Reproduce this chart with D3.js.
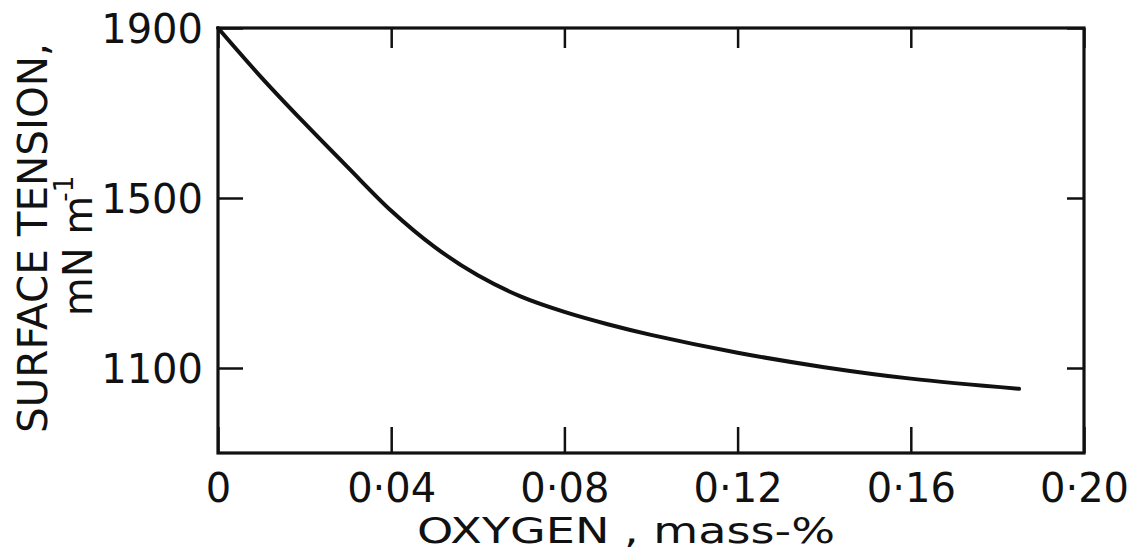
<!DOCTYPE html>
<html>
<head>
<meta charset="utf-8">
<script src="https://cdn.jsdelivr.net/npm/d3@7"></script>
<style>
  html, body { margin: 0; padding: 0; background: #fff; }
  svg { display: block; }
  text { font-family: "DejaVu Sans", sans-serif; fill: #111; }
</style>
</head>
<body>
<svg id="chart" width="1130" height="555"></svg>
<script>
// Data
const oxygen = [0, 0.01, 0.02, 0.03, 0.04, 0.05, 0.06, 0.07, 0.08, 0.09, 0.10, 0.12, 0.14, 0.16, 0.185];
const tension = [1900, 1784, 1676, 1572, 1470, 1385, 1318, 1268, 1232, 1203, 1178, 1136, 1102, 1075, 1051];
const xTicks = [0, 0.04, 0.08, 0.12, 0.16, 0.20];
const xTickLabels = ["0", "0·04", "0·08", "0·12", "0·16", "0·20"];
const yTicks = [1100, 1500, 1900];
const yTickLabels = ["1100", "1500", "1900"];
const xTitle = "OXYGEN , mass-%";
const yTitle1 = "SURFACE TENSION,";
const yTitle2 = "mN m";
const yTitle2Sup = "-1";

const svg = d3.select("#chart");
const L = 218, R = 1084, T = 28, B = 453;
const x = d3.scaleLinear().domain([0, 0.20]).range([L, R]);
const y = d3.scaleLinear().domain([900, 1900]).range([B, T]);

const ink = "#111";

// Bottom axis: inward ticks, labels below
const gx = svg.append("g").attr("transform", `translate(0,${B})`)
  .call(d3.axisBottom(x).tickValues(xTicks).tickSize(-26).tickSizeOuter(0)
    .tickFormat((d, i) => xTickLabels[i]).tickPadding(0));
gx.select(".domain").remove();
gx.selectAll(".tick line").attr("stroke", ink).attr("stroke-width", 2.5);
gx.selectAll(".tick text").attr("y", 49).attr("dy", 0).style("font-size", "40px");

// Top axis: inward ticks, no labels
const gxt = svg.append("g").attr("transform", `translate(0,${T})`)
  .call(d3.axisTop(x).tickValues(xTicks).tickSize(-20).tickSizeOuter(0).tickFormat(""));
gxt.select(".domain").remove();
gxt.selectAll(".tick line").attr("stroke", ink).attr("stroke-width", 2.5);

// Left axis
const gy = svg.append("g").attr("transform", `translate(${L},0)`)
  .call(d3.axisLeft(y).tickValues(yTicks).tickSize(-25).tickSizeOuter(0)
    .tickFormat((d, i) => yTickLabels[i]).tickPadding(0));
gy.select(".domain").remove();
gy.selectAll(".tick line").attr("stroke", ink).attr("stroke-width", 2.5);
gy.selectAll(".tick text").attr("x", -15).attr("dy", "0.36em").style("font-size", "40px");

// Right axis
const gyr = svg.append("g").attr("transform", `translate(${R},0)`)
  .call(d3.axisRight(y).tickValues(yTicks).tickSize(-17).tickSizeOuter(0).tickFormat(""));
gyr.select(".domain").remove();
gyr.selectAll(".tick line").attr("stroke", ink).attr("stroke-width", 2.5);

// Frame
svg.append("rect")
  .attr("x", x(0)).attr("y", y(1900))
  .attr("width", x(0.20) - x(0)).attr("height", y(900) - y(1900))
  .attr("fill", "none").attr("stroke", ink).attr("stroke-width", 3.2);

// Curve
const pts = oxygen.map((o, i) => [o, tension[i]]);
const line = d3.line().x(d => x(d[0])).y(d => y(d[1])).curve(d3.curveCatmullRom.alpha(0.5));
svg.append("path").datum(pts)
  .attr("d", line)
  .attr("fill", "none").attr("stroke", ink).attr("stroke-width", 4)
  .attr("stroke-linecap", "round");

// X title
svg.append("text")
  .attr("x", 626).attr("y", 543)
  .attr("text-anchor", "middle")
  .attr("textLength", 418).attr("lengthAdjust", "spacingAndGlyphs")
  .style("font-size", "35px")
  .text(xTitle);

// Y title line 1
svg.append("text")
  .attr("transform", "translate(47,238) rotate(-90)")
  .attr("text-anchor", "middle")
  .attr("textLength", 390).attr("lengthAdjust", "spacingAndGlyphs")
  .style("font-size", "41px")
  .text(yTitle1);

// Y title line 2 with superscript
const t2 = svg.append("text")
  .attr("transform", "translate(92,246) rotate(-90)")
  .attr("text-anchor", "middle")
  .style("font-size", "40px");
t2.append("tspan").text(yTitle2);
t2.append("tspan").attr("dy", -19).attr("dx", -6).style("font-size", "26px").text(yTitle2Sup);
</script>
</body>
</html>
